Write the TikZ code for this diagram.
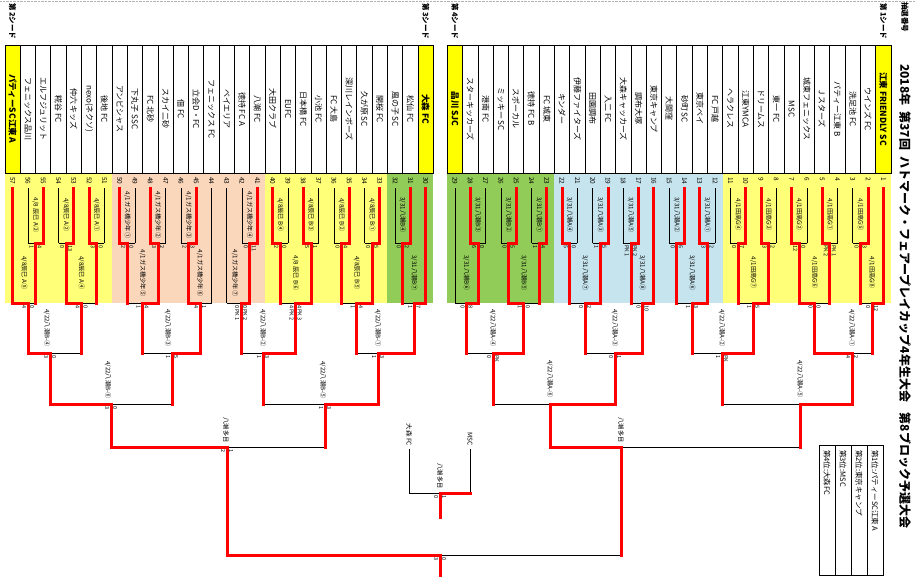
\documentclass[tikz,border=0pt]{standalone}
\usepackage{fontspec}
\setmainfont{Noto Sans CJK JP}
\newcommand\fs[1]{\fontsize{#1}{#1}\selectfont}
\definecolor{bandY}{RGB}{255,255,120}
\definecolor{bandB}{RGB}{198,228,238}
\definecolor{bandG}{RGB}{146,204,88}
\definecolor{bandP}{RGB}{250,214,186}
\definecolor{seedY}{RGB}{255,255,0}
% match: xL yL codeL xR yR codeR xJ y
\newcommand\M[8]{%
  \draw[v#3] (#1,#2) -- (#1,#8);
  \draw[h#3] (#1,#8) -- (#7,#8);
  \draw[v#6] (#4,#5) -- (#4,#8);
  \draw[h#6] (#4,#8) -- (#7,#8);}
\newcommand\LB[3]{\node[mlab] at (#1,#2) {#3};}
\newcommand\SC[4]{\node[sc] at ({#1-4},{#2+2}) {#3};\node[sc] at ({#1+4},{#2+2}) {#4};}
\newcommand\bracket{%
% right, round 1
\M{852.8}{188}{L}{868.1}{188}{W}{860.5}{243}
\M{822.2}{188}{W}{837.5}{188}{L}{829.9}{243}
\M{791.6}{188}{W}{806.9}{188}{L}{799.3}{243}
\M{761.0}{188}{W}{776.3}{188}{L}{768.7}{243}
\M{730.4}{188}{L}{745.7}{188}{W}{738.1}{243}
\M{699.8}{188}{W}{715.1}{188}{L}{707.5}{243}
\M{669.2}{188}{L}{684.5}{188}{W}{676.9}{243}
\M{623.3}{188}{L}{638.6}{188}{W}{631.0}{243}
\M{592.7}{188}{L}{608.0}{188}{W}{600.4}{243}
\M{562.1}{188}{W}{577.4}{188}{L}{569.8}{243}
\M{531.5}{188}{L}{546.8}{188}{W}{539.2}{243}
\M{500.9}{188}{L}{516.2}{188}{W}{508.6}{243}
\M{470.3}{188}{W}{485.6}{188}{L}{478.0}{243}
% right, round 2
\M{860.5}{243}{X}{883.4}{188}{W}{872.0}{303}
\M{799.3}{243}{W}{829.9}{243}{X}{814.6}{303}
\M{738.1}{243}{X}{768.7}{243}{W}{753.4}{303}
\M{676.9}{243}{X}{707.5}{243}{W}{692.2}{303}
\M{631.0}{243}{X}{653.9}{188}{W}{642.5}{303}
\M{569.8}{243}{X}{600.4}{243}{W}{585.1}{303}
\M{508.6}{243}{W}{539.2}{243}{X}{523.9}{303}
\M{455.0}{188}{L}{478.0}{243}{W}{466.5}{303}
% right, round 3
\M{814.6}{303}{W}{872.0}{303}{X}{852.0}{353}
\M{692.2}{303}{X}{753.4}{303}{W}{722.0}{353}
\M{585.1}{303}{X}{642.5}{303}{W}{615.0}{353}
\M{466.5}{303}{X}{523.9}{303}{W}{493.0}{353}
% right, round 4
\M{722.0}{353}{X}{852.0}{353}{W}{800.0}{404}
\M{493.0}{353}{X}{615.0}{353}{W}{550.0}{404}
% right semi
\M{550.0}{404}{W}{800.0}{404}{X}{621.0}{447}
% left, round 1
\M{395.1}{188}{L}{410.4}{188}{W}{402.8}{243}
\M{364.5}{188}{L}{379.8}{188}{W}{372.2}{243}
\M{333.9}{188}{L}{349.2}{188}{W}{341.6}{243}
\M{303.3}{188}{W}{318.6}{188}{L}{311.0}{243}
\M{272.7}{188}{W}{288.0}{188}{L}{280.4}{243}
\M{242.1}{188}{L}{257.4}{188}{W}{249.8}{243}
\M{180.9}{188}{L}{196.2}{188}{W}{188.6}{243}
\M{150.3}{188}{W}{165.6}{188}{L}{158.0}{243}
\M{119.7}{188}{W}{135.0}{188}{L}{127.4}{243}
\M{89.1}{188}{W}{104.4}{188}{L}{96.8}{243}
\M{58.5}{188}{L}{73.8}{188}{W}{66.2}{243}
\M{27.9}{188}{L}{43.2}{188}{W}{35.6}{243}
% left, round 2
\M{402.8}{243}{X}{425.7}{188}{W}{414.3}{303}
\M{341.6}{243}{X}{372.2}{243}{W}{356.9}{303}
\M{280.4}{243}{X}{311.0}{243}{W}{295.7}{303}
\M{226.8}{188}{L}{249.8}{243}{W}{241.0}{303}
\M{188.6}{243}{W}{211.5}{188}{L}{200.0}{303}
\M{127.4}{243}{X}{158.0}{243}{W}{142.7}{303}
\M{66.2}{243}{W}{96.8}{243}{X}{81.5}{303}
\M{12.6}{188}{W}{35.6}{243}{X}{28.0}{303}
% left, round 3
\M{28.0}{303}{W}{81.5}{303}{X}{50.0}{353}
\M{142.7}{303}{X}{200.0}{303}{W}{172.0}{353}
\M{241.0}{303}{X}{295.7}{303}{W}{263.0}{353}
\M{356.9}{303}{X}{414.3}{303}{W}{378.0}{353}
% left, round 4
\M{50.0}{353}{W}{172.0}{353}{X}{111.0}{404}
\M{263.0}{353}{X}{378.0}{353}{W}{325.0}{404}
% left semi
\M{111.0}{404}{W}{325.0}{404}{X}{227.0}{447}
% final
\M{227.0}{447}{W}{621.0}{447}{X}{440.0}{555}
\draw[vW] (440,555) -- (440,575);
% third place
\M{409.0}{449}{L}{470.0}{449}{Y}{440.0}{493}
\draw[vW] (440,493) -- (440,517);
}
\begin{document}
\begin{tikzpicture}[x=1pt,y=-1pt,
  win/.style={draw=red,line width=3pt},
  lose/.style={draw=black,line width=0.7pt},
  vW/.style={win}, hW/.style={win}, vL/.style={lose}, hL/.style={lose},
  vX/.style={win}, hX/.style={lose}, vY/.style={lose}, hY/.style={win},
  tname/.style={rotate=-90,inner sep=0pt,font=\fs{8}},
  seedname/.style={rotate=-90,inner sep=0pt,font=\fs{8.5}\bfseries},
  num/.style={rotate=-90,anchor=west,inner sep=0pt,font=\fs{6.5}},
  mlab/.style={rotate=-90,inner sep=0pt,font=\fs{6.2}},
  sc/.style={rotate=-90,anchor=west,inner sep=0pt,font=\fs{5.5}},
  hdr/.style={rotate=-90,anchor=west,inner sep=0pt,font=\fs{7.5}\bfseries},
  leg/.style={rotate=-90,anchor=west,inner sep=0pt,font=\fs{7.5}},
]
\useasboundingbox (0,0) rectangle (915,583);
\fill[white] (0,0) rectangle (915,583);
\draw[gray!60,densely dotted] (0,1) -- (915,1);

% colour bands
\fill[bandY] (722.75,173) rectangle (891.05,303);
\fill[bandB] (554.45,173) rectangle (722.75,303);
\fill[bandG] (447.35,173) rectangle (554.45,303);
\fill[bandG] (387.45,173) rectangle (433.35,303);
\fill[bandY] (265.05,173) rectangle (387.45,303);
\fill[bandP] (112.05,173) rectangle (265.05,303);
\fill[bandY] (4.95,173) rectangle (112.05,303);

% seed cells
\fill[seedY] (875.75,45) rectangle (891.05,173);
\fill[seedY] (447.35,45) rectangle (462.65,173);
\fill[seedY] (418.05,45) rectangle (433.35,173);
\fill[seedY] (4.95,45) rectangle (20.25,173);

% tables
\draw[line width=0.8pt] (447.35,45) rectangle (891.05,173);
\foreach \i in {1,...,28} \draw[line width=0.8pt] ({447.35+15.3*\i},45) -- ++(0,128);
\draw[line width=0.8pt] (4.95,45) rectangle (433.35,173);
\foreach \i in {1,...,27} \draw[line width=0.8pt] ({4.95+15.3*\i},45) -- ++(0,128);

% headers
\node[hdr] (h0) at (905,2) {抽選番号};
\node[hdr] (h1) at (883.4,3) {第 1シード};
\node[hdr] (h2) at (12.6,3) {第 2シード};
\node[hdr] (h3) at (425.7,3) {第 3シード};
\node[hdr] (h4) at (455.0,3) {第 4シード};
\node[rotate=-90,anchor=west,inner sep=0pt,font=\fs{12}\bfseries] (title) at (905,64)
  {2018年\hspace{0.5em}第37回\hspace{0.5em}ハトマーク・フェアープレイカップ4年生大会\hspace{0.9em}第8ブロック予選大会};

% team names, right block
\node[seedname] (t1) at (883.4,109) {江東 FRIENDLY SC};
\node[seedname] (t29) at (455.0,109) {品川 SJC};
\foreach \k/\n in {2/ウインズ FC,3/洗足池 FC,4/パティー江東 B,5/J スターズ,6/城東フェニックス,
  7/MSC,8/東一 FC,9/ドリームス,10/江東YMCA,11/ヘラクレス,12/FC 戸越,13/東京ベイ,14/砂町 SC,
  15/大間窪,16/東京キャンプ,17/調布大塚,18/大森キャッカーズ,19/入二 FC,20/田園調布,
  21/伊藤ファイターズ,22/キンダー,23/FC 城東,24/徳持 FC B,25/スポーカル,26/ミッキー SC,
  27/港南 FC,28/スターキッカーズ}
  \node[tname] (t\k) at ({883.4-15.3*(\k-1)},109) {\n};
% team names, left block
\node[seedname] (t30) at (425.7,109) {大森 FC};
\node[seedname] (t57) at (12.6,109) {パティーSC江東 A};
\foreach \k/\n in {31/松仙 FC,32/風の子 SC,33/開桜 FC,34/久が原 SC,35/深川レインボーズ,36/FC 大島,
  37/小池 FC,38/日本橋 FC,39/EUFC,40/大田クラブ,41/八潮 FC,42/徳持 FC A,43/ベイエリア,
  44/フェニックス FC,45/立会D・FC,46/佃 FC,47/スカイ二砂,48/FC 北砂,49/下丸子 SSC,
  50/アンビシャス,51/後地 FC,52/nexo(ネクソ),53/仲六 キッズ,54/糀谷 FC,55/エルフジュリット,
  56/フェニックス品川}
  \node[tname] (t\k) at ({425.7-15.3*(\k-30)},109) {\n};

% numbers
\foreach \k in {1,...,29} \node[num] (n\k) at ({883.4-15.3*(\k-1)},177) {\k};
\foreach \k in {30,...,57} \node[num] (n\k) at ({425.7-15.3*(\k-30)},177) {\k};

% bracket: black first, red on top
\begin{scope}[win/.style={draw=none}] \bracket \end{scope}
\begin{scope}[lose/.style={draw=none},win/.style={draw=red,line width=3pt,line cap=rect}] \bracket \end{scope}

% match labels right
\LB{860.5}{215}{4/1田高G⑤}\LB{829.9}{215}{4/1田高G①}\LB{799.3}{215}{4/1田高G②}
\LB{768.7}{215}{4/1田高G③}\LB{738.1}{215}{4/1田高G④}\LB{707.5}{215}{3/31八潮A①}
\LB{676.9}{215}{3/31八潮A②}\LB{631.0}{215}{3/31八潮A⑤}\LB{600.4}{215}{3/31八潮A③}
\LB{569.8}{215}{3/31八潮A④}\LB{539.2}{215}{3/31八潮B①}\LB{508.6}{215}{3/31八潮B②}
\LB{478.0}{215}{3/31八潮B③}
\LB{872.0}{273}{4/1田高G⑧}\LB{814.6}{273}{4/1田高G⑥}\LB{753.4}{273}{4/1田高G⑦}
\LB{692.2}{273}{3/31八潮A⑥}\LB{642.5}{273}{3/31八潮A⑧}\LB{585.1}{273}{3/31八潮A⑦}
\LB{523.9}{273}{3/31八潮B⑤}\LB{466.5}{273}{3/31八潮B⑥}
\LB{852.0}{328}{4/22八潮A-①}\LB{722.0}{328}{4/22八潮A-②}\LB{615.0}{328}{4/22八潮A-③}
\LB{493.0}{328}{4/22八潮A-④}
\LB{800.0}{379}{4/22八潮A-⑤}\LB{550.0}{379}{4/22八潮A-⑥}
\LB{621.0}{430}{八潮多目}
% match labels left
\LB{402.8}{215}{3/31八潮B④}\LB{372.2}{215}{4/8辰巳 B①}\LB{341.6}{215}{4/8辰巳 B②}
\LB{311.0}{215}{4/8辰巳 B③}\LB{280.4}{215}{4/8辰巳 B④}\LB{249.8}{215}{4/1ガス橋少年④}
\LB{188.6}{215}{4/1ガス橋少年③}\LB{158.0}{215}{4/1ガス橋少年②}\LB{127.4}{215}{4/1ガス橋少年①}
\LB{96.8}{215}{4/8辰巳 A①}\LB{66.2}{215}{4/8辰巳 A②}\LB{35.6}{215}{4/8 辰巳 A③}
\LB{414.3}{273}{3/31八潮B⑦}\LB{356.9}{273}{4/8辰巳 B⑤}\LB{295.7}{273}{4/8 辰巳 B⑥}
\LB{235.0}{273}{4/1ガス橋少年⑦}\LB{200.0}{273}{4/1ガス橋少年⑥}\LB{142.7}{273}{4/1ガス橋少年⑤}
\LB{81.5}{273}{4/8辰巳 A④}\LB{24.1}{273}{4/8辰巳 A⑤}
\LB{47.0}{328}{4/22八潮B-④}\LB{168.0}{328}{4/22八潮B-③}\LB{263.0}{328}{4/22八潮B-②}
\LB{378.0}{328}{4/22八潮B-①}
\LB{108.0}{380}{4/22八潮B-⑥}\LB{323.0}{380}{4/22八潮B-⑤}
\LB{226.0}{430}{八潮多目}
\LB{440.0}{476}{八潮多目}
\node[rotate=-90,anchor=east,inner sep=0pt,font=\fs{6.5}] (omori) at (409,446) {大森 FC};
\node[rotate=-90,anchor=east,inner sep=0pt,font=\fs{6.5}] (msc) at (470,446) {MSC};

% scores (left, right)
\SC{860.5}{243}{0}{3}\SC{829.9}{243}{PK 2}{PK 1}\SC{799.3}{243}{12}{0}\SC{768.7}{243}{3}{2}
\SC{738.1}{243}{0}{7}\SC{707.5}{243}{3}{2}\SC{676.9}{243}{0}{6}\SC{631.0}{243}{PK 1}{PK 2}
\SC{600.4}{243}{1}{5}\SC{569.8}{243}{5}{0}\SC{539.2}{243}{1}{4}\SC{508.6}{243}{0}{5}\SC{478.0}{243}{6}{0}
\SC{872.0}{303}{0}{12}\SC{814.6}{303}{0}{0}\SC{753.4}{303}{1}{5}\SC{692.2}{303}{1}{3}
\SC{642.5}{303}{0}{10}\SC{585.1}{303}{0}{2}\SC{523.9}{303}{1}{0}\SC{466.5}{303}{0}{8}
\SC{852.0}{353}{4}{2}\SC{722.0}{353}{1}{PK}\SC{615.0}{353}{0}{1}\SC{493.0}{353}{0}{PK}
\SC{402.8}{243}{0}{2}\SC{372.2}{243}{0}{5}\SC{341.6}{243}{0}{4}\SC{311.0}{243}{5}{1}
\SC{280.4}{243}{2}{0}\SC{249.8}{243}{0}{11}\SC{188.6}{243}{2}{3}\SC{158.0}{243}{3}{2}
\SC{127.4}{243}{2}{0}\SC{96.8}{243}{3}{0}\SC{66.2}{243}{0}{13}\SC{35.6}{243}{1}{4}
\SC{414.3}{303}{1}{7}\SC{356.9}{303}{1}{4}\SC{295.7}{303}{4 PK 2}{4 PK 3}\SC{241.0}{303}{0 PK 1}{0 PK 2}
\SC{200.0}{303}{4}{1}\SC{142.7}{303}{1}{4}\SC{81.5}{303}{4}{0}\SC{28.0}{303}{4}{0}
\SC{50.0}{353}{3}{0}\SC{172.0}{353}{1}{5}\SC{263.0}{353}{1}{3}\SC{378.0}{353}{1}{3}
\SC{111.0}{404}{3}{0}\SC{325.0}{404}{1}{3}\SC{227.0}{447}{2}{1}
\SC{440.0}{555}{3}{0}\SC{440.0}{493}{0}{1}

% legend
\draw[line width=0.8pt] (819,445) rectangle (883,575);
\foreach \xx in {835,851,867} \draw[line width=0.8pt] (\xx,445) -- (\xx,575);
\node[leg] (r1) at (875,450) {第1位:パティーSC江東 A};
\node[leg] (r2) at (859,450) {第2位:東京キャンプ};
\node[leg] (r3) at (843,450) {第3位:MSC};
\node[leg] (r4) at (827,450) {第4位:大森FC};
\end{tikzpicture}
\end{document}
